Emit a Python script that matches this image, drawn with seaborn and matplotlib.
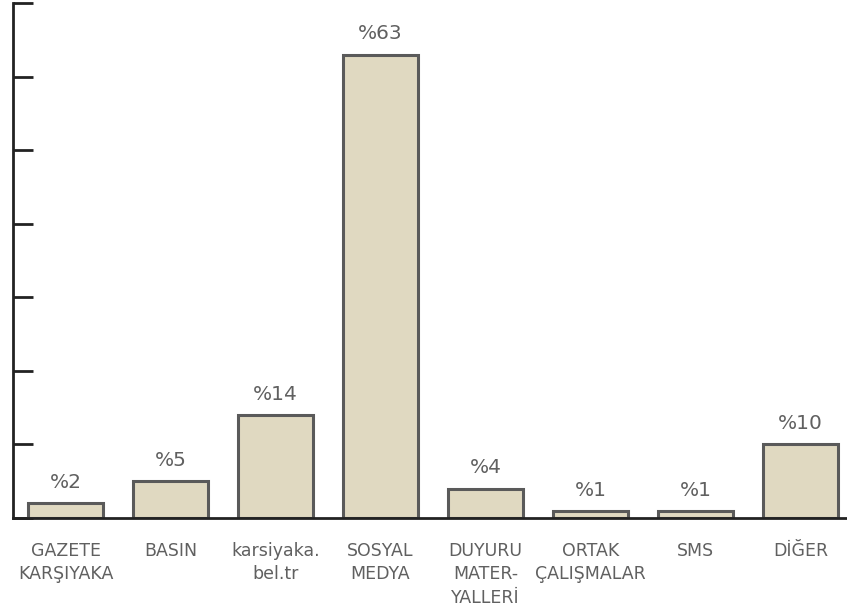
import matplotlib
matplotlib.use("Agg")
import matplotlib.pyplot as plt
import seaborn as sns
import pandas as pd

# chart data
categories = ["GAZETE\nKARŞIYAKA", "BASIN", "karsiyaka.\nbel.tr", "SOSYAL\nMEDYA",
              "DUYURU\nMATER-\nYALLERİ", "ORTAK\nÇALIŞMALAR", "SMS", "DİĞER"]
values = [2, 5, 14, 63, 4, 1, 1, 10]
y_ticks = [0, 10, 20, 30, 40, 50, 60, 70]

df = pd.DataFrame({"kanal": categories, "oran": values})

sns.set_theme(style="white")
plt.rcParams["font.family"] = ["DejaVu Sans"]

fig = plt.figure(figsize=(8.47, 6.09), dpi=100)
ax = fig.add_axes([13 / 847, 91 / 609, 840 / 847, 515 / 609])

sns.barplot(data=df, x="kanal", y="oran", ax=ax, color="#e0d9c1",
            edgecolor="#5a5a5a", linewidth=2.2, width=0.71, saturation=1)

ax.bar_label(ax.containers[0], labels=[f"%{v}" for v in values],
             padding=8, fontsize=14.5, color="#606060")

ax.set_ylim(0, 70)
ax.set_xlim(-0.5, 7.5)
ax.set_yticks(y_ticks)
ax.set_yticklabels([])
ax.set_xlabel("")
ax.set_ylabel("")

ax.set_xticks(range(len(categories)))
ax.set_xticklabels(categories, fontsize=12.5, color="#606060", linespacing=1.42)
ax.tick_params(axis="x", which="major", length=0, pad=17)
ax.set_xticks([i + 0.5 for i in range(len(categories) - 1)], minor=True)
ax.tick_params(axis="x", which="minor", direction="in", length=9.5, width=2, color="#222222")
ax.tick_params(axis="y", direction="in", length=14.5, width=2, color="#222222", left=True)

for side in ["top", "right"]:
    ax.spines[side].set_visible(False)
for side in ["left", "bottom"]:
    ax.spines[side].set_color("#222222")
    ax.spines[side].set_linewidth(2)

fig.savefig("out.png", dpi=100)
